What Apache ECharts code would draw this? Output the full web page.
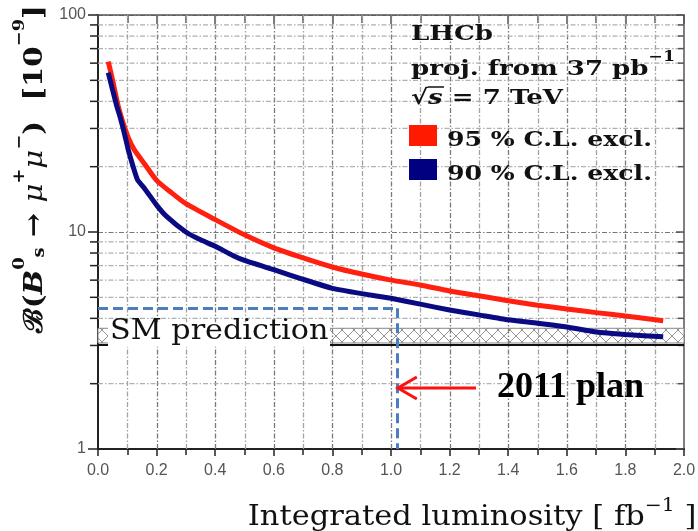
<!DOCTYPE html>
<html>
<head>
<meta charset="utf-8">
<script src="https://cdn.jsdelivr.net/npm/echarts@6/dist/echarts.min.js"></script>
<style>
  html, body { margin: 0; padding: 0; background: #fff; }
  #chart { width: 698px; height: 531px; }
</style>
</head>
<body>
<div id="chart"></div>
<script>
// Integrated luminosity [fb^-1] and projected exclusion limits [10^-9]
const lumi95  = [0.035, 0.05, 0.069, 0.085, 0.103, 0.124, 0.16, 0.2, 0.25, 0.3, 0.4, 0.5, 0.6, 0.7, 0.8, 0.9, 1.0, 1.1, 1.2, 1.3, 1.4, 1.5, 1.6, 1.7, 1.8, 1.929];
const limit95 = [61, 50, 38, 32, 27.3, 23.9, 20.5, 17.3, 15.2, 13.5, 11.4, 9.7, 8.45, 7.6, 6.9, 6.4, 6.0, 5.7, 5.35, 5.08, 4.82, 4.6, 4.42, 4.25, 4.1, 3.9];

const lumi90  = [0.035, 0.05, 0.064, 0.075, 0.09, 0.103, 0.12, 0.135, 0.16, 0.2, 0.234, 0.3, 0.35, 0.4, 0.46, 0.5, 0.6, 0.7, 0.8, 0.9, 1.0, 1.1, 1.2, 1.3, 1.4, 1.5, 1.6, 1.7, 1.8, 1.929];
const limit90 = [54.2, 45, 38, 34, 28.5, 24, 20, 17.4, 15.8, 13.3, 11.8, 10.0, 9.2, 8.6, 7.8, 7.4, 6.7, 6.05, 5.5, 5.2, 4.95, 4.65, 4.37, 4.15, 3.94, 3.8, 3.65, 3.46, 3.37, 3.29];

// Standard Model prediction band and its lower edge
const smBand = [3.08, 3.6];
const smLower = 3.02;

// 2011 running plan marker
const planLumi = 1.02;
const planLimit = 4.45;
const arrowY = 1.91;
const arrowTail = 1.29;

// grid positions
const yMinor = [2, 3, 4, 5, 6, 7, 8, 9, 20, 30, 40, 50, 60, 70, 80, 90];
const xMajor = [0.2, 0.4, 0.6, 0.8, 1.0, 1.2, 1.4, 1.6, 1.8];
const xMinor = [0.1, 0.3, 0.5, 0.7, 0.9, 1.1, 1.3, 1.5, 1.7, 1.9];

const serif = '"DejaVu Serif", "Liberation Serif", serif';
const gridDash = [5, 2, 1.5, 2];
const majorGrid = '#7a7a7a';
const minorGrid = '#b0b0b0';
const minorGridV = '#a2a2a2';

// cross-hatch fill for the SM band
const hatch = document.createElement('canvas');
hatch.width = 12; hatch.height = 12;
(function () {
  const c = hatch.getContext('2d');
  c.fillStyle = '#fff'; c.fillRect(0, 0, 12, 12);
  c.strokeStyle = '#8a8a8a'; c.lineWidth = 0.9;
  c.beginPath();
  c.moveTo(0, 0); c.lineTo(12, 12);
  c.moveTo(12, 0); c.lineTo(0, 12);
  c.stroke();
})();

const chart = echarts.init(document.getElementById('chart'), null, { renderer: 'canvas' });

const axisBlack = '#222';

chart.setOption({
  backgroundColor: '#fff',
  animation: false,
  grid: { left: 98, right: 14, top: 15, bottom: 82, outerBoundsMode: 'none' },
  xAxis: [
    {
      type: 'value', min: 0, max: 2, interval: 0.2, position: 'bottom',
      axisLine: { show: true, onZero: false, lineStyle: { color: axisBlack, width: 2 } },
      axisTick: { show: true, inside: false, length: 7, lineStyle: { color: axisBlack, width: 1.5 } },
      minorTick: { show: true, splitNumber: 2, length: 6, lineStyle: { color: axisBlack, width: 1.5 } },
      splitLine: { show: false },
      axisLabel: {
        color: '#555', fontSize: 16, fontFamily: '"Liberation Sans", Arial, sans-serif', margin: 14,
        formatter: v => v.toFixed(1)
      }
    },
    {
      type: 'value', min: 0, max: 2, interval: 0.2, position: 'top',
      axisLine: { show: true, onZero: false, lineStyle: { color: '#555', width: 1.5 } },
      axisTick: { show: true, inside: true, length: 9, lineStyle: { color: '#555', width: 1.5 } },
      minorTick: { show: true, splitNumber: 2, length: 8, lineStyle: { color: '#555', width: 1.5 } },
      splitLine: { show: false },
      axisLabel: { show: false }
    }
  ],
  yAxis: [
    {
      type: 'log', logBase: 10, min: 1, max: 100, position: 'left',
      axisLine: { show: true, onZero: false, lineStyle: { color: axisBlack, width: 2 } },
      axisTick: { show: true, inside: false, length: 10, lineStyle: { color: axisBlack, width: 1.5 } },
      splitLine: { show: true, lineStyle: { color: '#777', width: 1.2, type: gridDash } },
      axisLabel: { color: '#555', fontSize: 16, fontFamily: '"Liberation Sans", Arial, sans-serif', margin: 12 }
    },
    {
      type: 'log', logBase: 10, min: 1, max: 100, position: 'right',
      axisLine: { show: true, onZero: false, lineStyle: { color: '#555', width: 1.5 } },
      axisTick: { show: true, inside: true, length: 8, lineStyle: { color: '#555', width: 1.5 } },
      splitLine: { show: false },
      axisLabel: { show: false }
    }
  ],
  series: [
    {
      // grid lines: vertical every 0.1 fb^-1, horizontal at 2..9 and 20..90, plus minor y ticks
      type: 'custom', name: 'grid', silent: true, clip: false, z: 1,
      xAxisIndex: 0, yAxisIndex: 0,
      data: [[0, 1]],
      renderItem: (params, api) => {
        const children = [];
        xMajor.concat(xMinor).forEach((v, i) => {
          const b = api.coord([v, 1]);
          const t = api.coord([v, 100]);
          const x = Math.round(b[0]) + 0.5;
          children.push({ type: 'polyline', shape: { points: [[x, b[1]], [x, t[1]]] },
            style: { stroke: i < xMajor.length ? majorGrid : minorGridV, lineWidth: 1.3, lineDash: gridDash, fill: null } });
        });
        yMinor.forEach(v => {
          const l = api.coord([0, v]);
          const r = api.coord([2, v]);
          children.push({ type: 'polyline', shape: { points: [[l[0], l[1]], [r[0], r[1]]] },
            style: { stroke: minorGrid, lineWidth: 1.2, lineDash: gridDash, fill: null } });
          children.push({ type: 'line', shape: { x1: l[0] - 8, y1: l[1], x2: l[0], y2: l[1] },
            style: { stroke: axisBlack, lineWidth: 1.5 } });
          children.push({ type: 'line', shape: { x1: r[0] - 6, y1: r[1], x2: r[0], y2: r[1] },
            style: { stroke: '#555', lineWidth: 1.5 } });
        });
        return { type: 'group', children: children };
      }
    },
    {
      // SM prediction band
      type: 'line', name: 'SM', data: [], silent: true, z: 2,
      markArea: {
        silent: true,
        itemStyle: { color: { image: hatch, repeat: 'repeat' }, borderColor: '#888', borderWidth: 1 },
        data: [[{ coord: [0, smBand[0]] }, { coord: [2, smBand[1]] }]]
      },
      markLine: {
        silent: true, symbol: ['none', 'none'], label: { show: false },
        lineStyle: { color: '#111', width: 2, type: 'solid' },
        data: [[{ coord: [0, smLower] }, { coord: [2, smLower] }]]
      }
    },
    {
      type: 'line', name: '95 % C.L. excl.', z: 4,
      data: lumi95.map((x, i) => [x, limit95[i]]),
      showSymbol: false, smooth: 0.2,
      lineStyle: { color: '#ff2010', width: 5 }
    },
    {
      type: 'line', name: '90 % C.L. excl.', z: 5,
      data: lumi90.map((x, i) => [x, limit90[i]]),
      showSymbol: false, smooth: 0.15,
      lineStyle: { color: '#0a0a82', width: 5 }
    },
    {
      // 2011 plan guide lines
      type: 'line', name: 'plan', data: [], silent: true, z: 6,
      markLine: {
        silent: true, symbol: ['none', 'none'], label: { show: false },
        lineStyle: { color: '#4a7ebf', width: 3, type: [10, 5] },
        data: [
          [{ coord: [0, planLimit] }, { coord: [planLumi, planLimit] }],
          [{ coord: [planLumi, planLimit] }, { coord: [planLumi, 1] }]
        ]
      }
    }
  ]
});

// annotations placed in data coordinates
const px = (x, y) => chart.convertToPixel({ xAxisIndex: 0, yAxisIndex: 0 }, [x, y]);
const tip = px(planLumi, arrowY);
const tail = px(arrowTail, arrowY);
const bandTop = px(0, smBand[1]);
const bandBot = px(0, smLower);
const legendFont = 'bold 21px ' + serif;
const legendScale = 1.24;

chart.setOption({
  graphic: [
    // SM prediction label box
    { type: 'rect', z: 50, shape: { x: 108, y: bandTop[1] - 6, width: 222, height: bandBot[1] - bandTop[1] + 8 },
      style: { fill: '#fff' } },
    { type: 'text', z: 51, x: 110, y: bandBot[1] + 1, scaleX: 1.12,
      style: { text: 'SM prediction', font: '27px ' + serif, fill: '#111', verticalAlign: 'bottom', align: 'left' } },
    // arrow to the 2011 plan
    { type: 'line', z: 52, shape: { x1: tail[0], y1: tail[1], x2: tip[0] + 1, y2: tip[1] },
      style: { stroke: '#ff1010', lineWidth: 3 } },
    { type: 'polyline', z: 52, shape: { points: [[tip[0] + 20, tip[1] - 11], [tip[0] + 1, tip[1]], [tip[0] + 20, tip[1] + 11]] },
      style: { stroke: '#ff1010', lineWidth: 3, fill: null } },
    { type: 'text', z: 52, x: 497, y: tip[1],
      style: { text: '2011 plan', font: 'bold 36px "Liberation Serif", "Times New Roman", serif', fill: '#000', verticalAlign: 'middle' } },
    // experiment block
    { type: 'text', z: 53, x: 411, y: 45, scaleX: legendScale,
      style: { text: 'LHCb', font: legendFont, fill: '#111', verticalAlign: 'bottom' } },
    { type: 'text', z: 53, x: 411, y: 80, scaleX: legendScale,
      style: {
        text: '{t|proj. from 37 pb}{s|−1}',
        verticalAlign: 'bottom',
        rich: {
          t: { font: legendFont, fill: '#111', lineHeight: 30, verticalAlign: 'bottom' },
          s: { font: 'bold 14px ' + serif, fill: '#111', lineHeight: 30, verticalAlign: 'top' }
        }
      } },
    { type: 'text', z: 53, x: 411, y: 109, scaleX: legendScale,
      style: {
        text: '{t|√}{i|s}{t| = 7 TeV}',
        verticalAlign: 'bottom',
        rich: {
          t: { font: legendFont, fill: '#111' },
          i: { font: 'italic bold 21px ' + serif, fill: '#111' }
        }
      } },
    { type: 'line', z: 53, shape: { x1: 428, y1: 87, x2: 444, y2: 87 }, style: { stroke: '#111', lineWidth: 1.5 } },
    { type: 'rect', z: 53, shape: { x: 409, y: 125, width: 28, height: 21 }, style: { fill: '#ff1a00' } },
    { type: 'text', z: 53, x: 447, y: 151, scaleX: 1.2,
      style: { text: '95 % C.L. excl.', font: legendFont, fill: '#111', verticalAlign: 'bottom' } },
    { type: 'rect', z: 53, shape: { x: 409, y: 159, width: 28, height: 21 }, style: { fill: '#000080' } },
    { type: 'text', z: 53, x: 447, y: 185, scaleX: 1.2,
      style: { text: '90 % C.L. excl.', font: legendFont, fill: '#111', verticalAlign: 'bottom' } },
    // axis titles
    { type: 'text', z: 53, x: 472, y: 514, scaleX: 1.13,
      style: {
        text: '{t|Integrated luminosity [ fb}{s|−1}{t| ]}',
        align: 'center', verticalAlign: 'middle',
        rich: {
          t: { font: '27px ' + serif, fill: '#111', lineHeight: 34, verticalAlign: 'bottom' },
          s: { font: '18px ' + serif, fill: '#111', lineHeight: 34, verticalAlign: 'top' }
        }
      } },
    { type: 'text', z: 53, x: 30, y: 169, rotation: Math.PI / 2, scaleX: 1.12,
      style: {
        text: '{t|ℬ(}{i|B}{s|0}{b|s}{t| → }{m|μ}{s|+}{m|μ}{s|−}{t|)  [10}{s|−9}{t|]}',
        align: 'center', verticalAlign: 'middle',
        rich: {
          t: { font: 'bold 26px ' + serif, fill: '#111', lineHeight: 36, verticalAlign: 'bottom' },
          i: { font: 'italic bold 26px ' + serif, fill: '#111', lineHeight: 36, verticalAlign: 'bottom' },
          m: { font: 'italic 26px ' + serif, fill: '#111', lineHeight: 36, verticalAlign: 'bottom' },
          s: { font: 'bold 16px ' + serif, fill: '#111', lineHeight: 36, verticalAlign: 'top' },
          b: { font: 'bold 16px ' + serif, fill: '#111', lineHeight: 30, verticalAlign: 'bottom' }
        }
      } }
  ]
});
</script>
</body>
</html>
